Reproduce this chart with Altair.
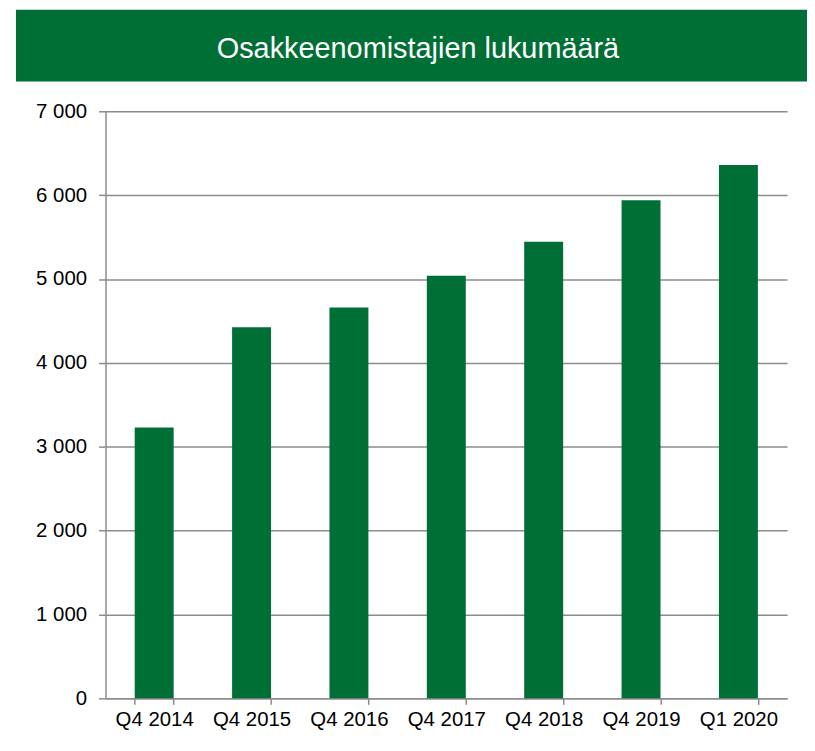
import altair as alt
import pandas as pd

categories = ["Q4 2014", "Q4 2015", "Q4 2016", "Q4 2017", "Q4 2018", "Q4 2019", "Q1 2020"]
values = [3230, 4425, 4660, 5040, 5445, 5940, 6360]
y_ticks = [0, 1000, 2000, 3000, 4000, 5000, 6000, 7000]
title_text = "Osakkeenomistajien lukumäärä"

GREEN = "#006F36"
GRAY = "#8C8C8C"
FONT = "Liberation Sans"

df = pd.DataFrame({"period": categories, "count": values})

bars = alt.Chart(df).mark_bar(color=GREEN).encode(
    x=alt.X("period:N", sort=categories,
            scale=alt.Scale(paddingInner=0.6, paddingOuter=0.3),
            axis=alt.Axis(title=None, labelAngle=0, tickBand="extent", tickSize=6,
                          tickColor=GRAY, tickWidth=1.5, domainColor=GRAY, domainWidth=1.5,
                          labelFontSize=20.5, labelFont=FONT, labelColor="#000000",
                          labelPadding=5, grid=False)),
    y=alt.Y("count:Q", scale=alt.Scale(domain=[0, 7000], nice=False),
            axis=alt.Axis(title=None, values=y_ticks, tickSize=7, tickColor=GRAY, tickWidth=1.5,
                          domainColor=GRAY, domainWidth=1.5, gridColor=GRAY, gridWidth=1.5,
                          labelFontSize=20.5, labelFont=FONT, labelColor="#000000", labelPadding=12,
                          labelExpr="replace(format(datum.value, ','), ',', ' ')")),
)

header_data = alt.Data(values=[{"t": title_text}])
header_rect = alt.Chart(header_data).mark_rect(color=GREEN).encode(
    x=alt.value(-90), x2=alt.value(707), y=alt.value(-102), y2=alt.value(-30)
)
header_text = alt.Chart(header_data).mark_text(
    color="white", fontSize=29, font=FONT, align="center", baseline="middle"
).encode(x=alt.value(314), y=alt.value(-63), text="t:N")

chart = alt.layer(bars, header_rect, header_text).properties(
    width=685, height=590,
    padding={"left": 98, "top": 102, "right": 20, "bottom": 34},
    autosize=alt.AutoSizeParams(type="none"),
).configure_view(strokeWidth=0)

chart.save("out.html", embed_options={"renderer": "svg", "actions": False})
